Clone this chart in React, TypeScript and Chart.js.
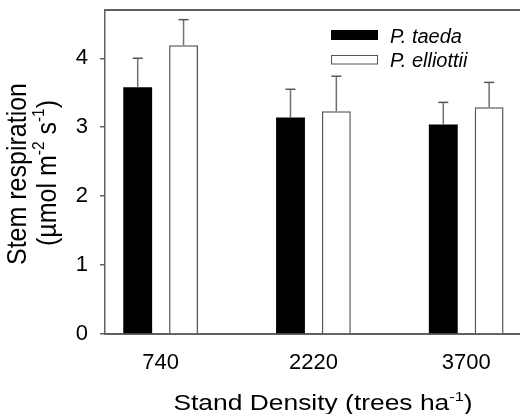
import React, { useEffect, useRef } from 'react';
import { Chart, registerables } from 'chart.js';

Chart.register(...registerables);

// ---- data ----
const categories = ['740', '2220', '3700'];
const seriesNames = ['P. taeda', 'P. elliottii'];
const taeda = [3.58, 3.14, 3.04];
const taedaErr = [0.42, 0.41, 0.32];
const elliottii = [4.19, 3.23, 3.29];
const elliottiiErr = [0.37, 0.51, 0.36];
const yTicks = [0, 1, 2, 3, 4];

const FAMILY = '"Liberation Sans", Arial, Helvetica, sans-serif';
const AXIS = '#606060';

type Seg = { t: string; sup?: boolean };

function drawRich(ctx: CanvasRenderingContext2D, segs: Seg[], size: number, italic = false) {
  const supSize = size * 0.62;
  const fN = `${italic ? 'italic ' : ''}${size}px ${FAMILY}`;
  const fS = `${supSize}px ${FAMILY}`;
  let w = 0;
  const widths = segs.map((s) => {
    ctx.font = s.sup ? fS : fN;
    const m = ctx.measureText(s.t).width;
    w += m;
    return m;
  });
  let x = -w / 2;
  ctx.textAlign = 'left';
  ctx.textBaseline = 'alphabetic';
  segs.forEach((s, i) => {
    ctx.font = s.sup ? fS : fN;
    ctx.fillText(s.t, x, s.sup ? -size * 0.42 : 0);
    x += widths[i];
  });
}

const errorBarsPlugin = {
  id: 'errorBars',
  afterDatasetsDraw(chart: any) {
    const ctx = chart.ctx as CanvasRenderingContext2D;
    const yScale = chart.scales.y;
    const errs = [taedaErr, elliottiiErr];
    const vals = [taeda, elliottii];
    ctx.save();
    chart.data.datasets.forEach((_: any, di: number) => {
      const meta = chart.getDatasetMeta(di);
      meta.data.forEach((bar: any, j: number) => {
        const x = bar.x;
        const yTop = yScale.getPixelForValue(vals[di][j] + errs[di][j]);
        ctx.strokeStyle = '#707070';
        ctx.lineWidth = 1.5;
        ctx.beginPath();
        ctx.moveTo(x, bar.y);
        ctx.lineTo(x, yTop);
        ctx.stroke();
        ctx.strokeStyle = '#555';
        ctx.lineWidth = 1.5;
        ctx.beginPath();
        ctx.moveTo(x - 5, yTop);
        ctx.lineTo(x + 5, yTop);
        ctx.stroke();
      });
    });
    ctx.restore();
  },
};

const decorPlugin = {
  id: 'decor',
  afterDraw(chart: any) {
    const ctx = chart.ctx as CanvasRenderingContext2D;
    const area = chart.chartArea;
    ctx.save();
    // top frame line
    ctx.strokeStyle = AXIS;
    ctx.lineWidth = 2;
    ctx.beginPath();
    ctx.moveTo(area.left - 0.75, area.top);
    ctx.lineTo(area.right, area.top);
    ctx.stroke();

    ctx.fillStyle = '#000';
    const midY = (area.top + area.bottom) / 2;
    // y title
    ctx.save();
    ctx.translate(26, midY + 2);
    ctx.rotate(-Math.PI / 2);
    ctx.scale(1, 1.1);
    drawRich(ctx, [{ t: 'Stem respiration' }], 25);
    ctx.restore();
    ctx.save();
    ctx.translate(56, midY + 1);
    ctx.rotate(-Math.PI / 2);
    ctx.scale(1, 1.1);
    drawRich(
      ctx,
      [{ t: '(\u00b5mol m' }, { t: '-2', sup: true }, { t: ' s' }, { t: '-1', sup: true }, { t: ')' }],
      25
    );
    ctx.restore();

    // x title
    ctx.save();
    ctx.translate(323, 410);
    ctx.scale(1.2, 1);
    drawRich(ctx, [{ t: 'Stand Density (trees ha' }, { t: '-1', sup: true }, { t: ')' }], 22);
    ctx.restore();

    // legend
    ctx.fillStyle = '#000';
    ctx.fillRect(331, 30, 47, 10);
    ctx.fillStyle = '#fff';
    ctx.fillRect(331.5, 56, 46, 8);
    ctx.strokeStyle = '#555';
    ctx.lineWidth = 1;
    ctx.strokeRect(331.5, 55.5, 46, 8.5);
    ctx.fillStyle = '#000';
    ctx.font = `italic 20px ${FAMILY}`;
    ctx.textAlign = 'left';
    ctx.textBaseline = 'alphabetic';
    ctx.fillText(seriesNames[0], 390, 43);
    ctx.fillText(seriesNames[1], 390, 67);
    ctx.restore();
  },
};

export default function App() {
  const ref = useRef<HTMLCanvasElement | null>(null);

  useEffect(() => {
    document.body.style.margin = '0';
    if (!ref.current) return;
    const chart = new Chart(ref.current, {
      type: 'bar',
      data: {
        datasets: [
          {
            label: seriesNames[0],
            data: taeda.map((v, i) => ({ x: i + 1, y: v })),
            backgroundColor: '#000',
            borderWidth: 0,
          },
          {
            label: seriesNames[1],
            data: elliottii.map((v, i) => ({ x: i + 1, y: v })),
            backgroundColor: '#fff',
            borderColor: '#555',
            borderWidth: 1.5,
          },
        ],
      },
      options: {
        animation: false,
        responsive: true,
        maintainAspectRatio: false,
        categoryPercentage: 0.6,
        barPercentage: 0.63,
        layout: { padding: { top: 10, left: 0, right: 0, bottom: 0 } },
        plugins: { legend: { display: false }, tooltip: { enabled: false } },
        scales: {
          x: {
            type: 'linear',
            min: 0.636,
            max: 3.352,
            offset: false,
            afterBuildTicks: (s: any) => {
              s.ticks = categories.map((_, i) => ({ value: i + 1 }));
            },
            afterFit: (s: any) => {
              s.height = 80;
              s.paddingLeft = 0;
              s.paddingRight = 0;
            },
            ticks: {
              callback: (_v: any, i: number) => categories[i] ?? '',
              font: { family: FAMILY, size: 22 },
              color: '#000',
              padding: 16,
              maxRotation: 0,
              autoSkip: false,
            },
            grid: { display: false, drawTicks: false, offset: false },
            border: { display: true, color: AXIS, width: 2 },
          },
          y: {
            min: 0,
            max: 4.7,
            afterBuildTicks: (s: any) => {
              s.ticks = yTicks.map((v) => ({ value: v }));
            },
            afterFit: (s: any) => {
              s.width = 105;
              s.paddingTop = 0;
              s.paddingBottom = 0;
            },
            ticks: {
              font: { family: FAMILY, size: 22 },
              color: '#000',
              padding: 12,
            },
            grid: { drawOnChartArea: false, drawTicks: true, tickLength: 5, color: AXIS, lineWidth: 1.5 },
            border: { display: true, color: AXIS, width: 1.5 },
          },
        },
      } as any,
      plugins: [errorBarsPlugin, decorPlugin],
    });
    return () => chart.destroy();
  }, []);

  return (
    <div style={{ position: 'relative', width: 520, height: 414 }}>
      <canvas ref={ref} />
    </div>
  );
}
